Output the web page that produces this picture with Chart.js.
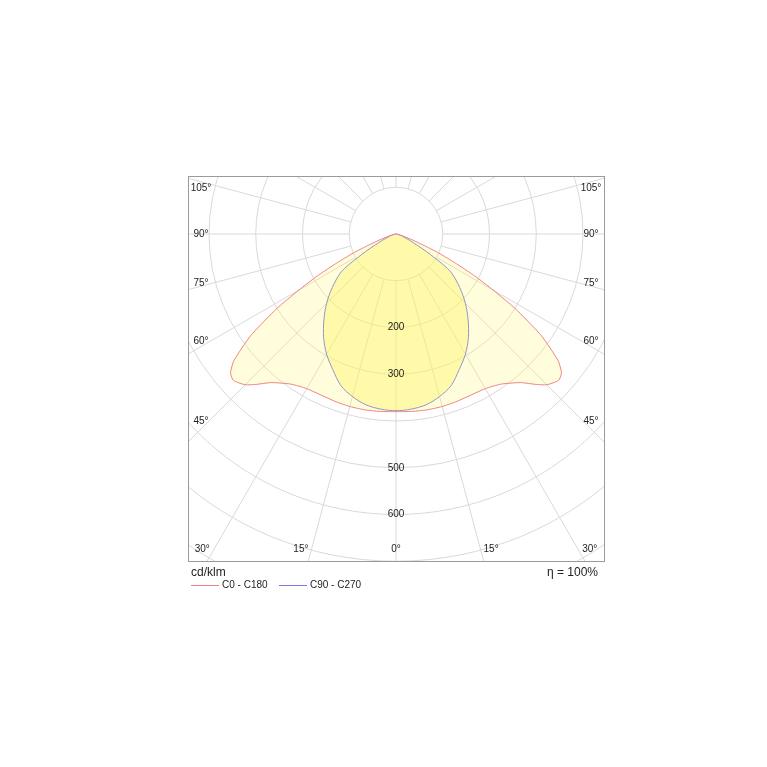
<!DOCTYPE html>
<html>
<head>
<meta charset="utf-8">
<script src="https://cdn.jsdelivr.net/npm/chart.js@4/dist/chart.umd.min.js"></script>
<style>
  body { margin: 0; background: #fff; }
  #wrap { width: 767px; height: 767px; }
</style>
</head>
<body>
<div id="wrap"><canvas id="polar" width="767" height="767"></canvas></div>
<script>
// angles from nadir (deg) and intensity (cd/klm)
const anglesC0 = [0, 5, 10, 15, 20, 25, 30, 35, 40, 43, 45, 48, 50, 52, 55, 58, 60, 62, 64, 66, 68, 70, 75, 80, 85, 90];
const valuesC0 = [380, 381, 382, 382, 381, 380, 382, 392, 415, 440, 456, 468, 462, 440, 380, 300, 240, 190, 140, 100, 62, 38, 12, 4, 1, 0];
const anglesC90 = [0, 5, 10, 15, 20, 25, 30, 35, 40, 45, 50, 55, 57, 60, 62, 65, 70, 75, 80, 85, 90];
const valuesC90 = [378, 376, 371, 360, 345, 320, 297, 270, 240, 210, 178, 145, 120, 75, 52, 32, 15, 7, 3, 1, 0];
const ringValues = [100, 200, 300, 400, 500, 600, 700, 800, 900, 1000];
const ringLabels = [200, 300, 500, 600];
const sideLabels = [105, 90, 75, 60, 45];
const sideLabelAt = [103, 90, 76, 61.4, 46.3];
const bottomLabels = [30, 15, 0, 15, 30];
const bottomLabelAt = [-31.6, -16.8, 0, 16.8, 31.6];

const scalePx = 0.4675; // px per cd/klm
const rad = a => a * Math.PI / 180;

function toPoints(angles, values) {
    let pts = [];
    for (let i = angles.length - 1; i >= 0; i--) {
        pts.push({ x: -values[i] * Math.sin(rad(angles[i])), y: -values[i] * Math.cos(rad(angles[i])) });
    }
    for (let i = 1; i < angles.length; i++) {
        pts.push({ x: values[i] * Math.sin(rad(angles[i])), y: -values[i] * Math.cos(rad(angles[i])) });
    }
    return pts;
}

const gridPlugin = {
    id: 'grid',
    beforeDatasetsDraw(chart) {
        const ctx = chart.ctx, a = chart.chartArea;
        const xs = chart.scales.x, ys = chart.scales.y;
        const cx = xs.getPixelForValue(0), cy = ys.getPixelForValue(0);
        const k = xs.getPixelForValue(100) - cx;
        ctx.save();
        ctx.beginPath();
        ctx.rect(a.left, a.top, a.right - a.left, a.bottom - a.top);
        ctx.clip();
        ctx.strokeStyle = '#d9d9d9';
        ctx.lineWidth = 1;
        ringValues.forEach(v => {
            ctx.beginPath();
            ctx.arc(cx, cy, v / 100 * k, 0, Math.PI * 2);
            ctx.stroke();
        });
        for (let ang = 0; ang < 360; ang += 15) {
            const dx = Math.sin(rad(ang)), dy = Math.cos(rad(ang));
            ctx.beginPath();
            ctx.moveTo(cx + dx * k, cy + dy * k);
            ctx.lineTo(cx + dx * k * 12, cy + dy * k * 12);
            ctx.stroke();
        }
        ctx.restore();
    },
    afterDraw(chart) {
        const ctx = chart.ctx, a = chart.chartArea;
        const xs = chart.scales.x, ys = chart.scales.y;
        const cx = xs.getPixelForValue(0), cy = ys.getPixelForValue(0);
        ctx.save();
        ctx.strokeStyle = '#9a9a9a';
        ctx.lineWidth = 1;
        ctx.strokeRect(a.left + 0.5, a.top + 0.5, a.right - a.left, a.bottom - a.top);
        ctx.fillStyle = '#222';
        ctx.font = '10px "Liberation Sans", Arial, sans-serif';
        ctx.textAlign = 'center';
        ctx.textBaseline = 'middle';
        ringLabels.forEach(v => {
            ctx.fillText(String(v), cx, ys.getPixelForValue(-v));
        });
        const sx = cx - (a.left + 12);
        sideLabels.forEach((ang, i) => {
            const t = rad(sideLabelAt[i]);
            const y = cy + sx * Math.cos(t) / Math.sin(t);
            ctx.fillText(ang + '°', a.left + 13, y);
            ctx.fillText(ang + '°', a.right - 13, y);
        });
        const by = a.bottom - 12;
        bottomLabels.forEach((ang, i) => {
            const x = cx + (by - cy) * Math.tan(rad(bottomLabelAt[i]));
            ctx.fillText(ang + '°', x, by);
        });
        ctx.font = '12px "Liberation Sans", Arial, sans-serif';
        ctx.textAlign = 'left';
        ctx.fillText('cd/klm', a.left + 3, a.bottom + 12);
        ctx.textAlign = 'right';
        ctx.fillText('η = 100%', a.right - 6, a.bottom + 12);
        ctx.font = '10px "Liberation Sans", Arial, sans-serif';
        ctx.textAlign = 'left';
        const ly = a.bottom + 24;
        chart.data.datasets.forEach((ds, i) => {
            const x0 = a.left + 3 + i * 88;
            ctx.strokeStyle = ds.borderColor;
            ctx.beginPath();
            ctx.moveTo(x0, ly + 0.5);
            ctx.lineTo(x0 + 28, ly + 0.5);
            ctx.stroke();
            ctx.fillText(ds.label, x0 + 31, ly);
        });
        ctx.restore();
    }
};

const chart = new Chart(document.getElementById('polar').getContext('2d'), {
    type: 'scatter',
    data: {
        datasets: [
            {
                label: 'C0 - C180',
                data: toPoints(anglesC0, valuesC0),
                showLine: true,
                fill: 'shape',
                tension: 0.2,
                backgroundColor: 'rgba(255,244,90,0.22)',
                borderColor: 'rgb(240,130,130)',
                borderWidth: 1,
                pointRadius: 0
            },
            {
                label: 'C90 - C270',
                data: toPoints(anglesC90, valuesC90),
                showLine: true,
                fill: 'shape',
                tension: 0.3,
                backgroundColor: 'rgba(255,244,90,0.38)',
                borderColor: 'rgb(120,120,230)',
                borderWidth: 1,
                pointRadius: 0
            }
        ]
    },
    options: {
        responsive: false,
        animation: false,
        layout: { padding: { left: 188, right: 163, top: 176, bottom: 206 } },
        plugins: { legend: { display: false }, tooltip: { enabled: false } },
        scales: {
            x: { display: false, min: -208 / scalePx, max: 208 / scalePx },
            y: { display: false, min: -327 / scalePx, max: 58 / scalePx }
        }
    },
    plugins: [gridPlugin]
});
</script>
</body>
</html>
